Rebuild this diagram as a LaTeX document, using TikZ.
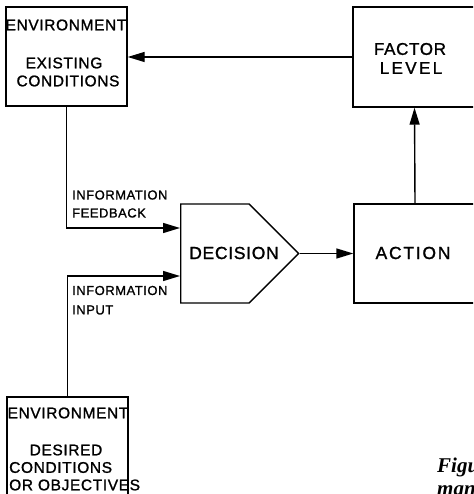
\documentclass[tikz,border=0pt]{standalone}
\usepackage{fontspec}
\usetikzlibrary{arrows.meta,shapes.symbols}
\newfontfamily\hand[LetterSpace=4,FakeBold=1.2]{Liberation Sans}
\newfontfamily\capfont{Liberation Serif}
\begin{document}
\begin{tikzpicture}[x=1pt,y=-1pt,
  box/.style={draw,line width=1.4pt,rectangle,inner sep=0pt},
  lbl/.style={inner sep=0pt,font=\hand\fontsize{15.5}{17}\selectfont},
  big/.style={inner sep=0pt,font=\hand\fontsize{17}{19}\selectfont},
  small/.style={inner sep=0pt,anchor=west,font=\hand\fontsize{13}{15}\selectfont},
  capt/.style={inner sep=0pt,anchor=base west,font=\capfont\itshape\bfseries\fontsize{21}{24}\selectfont},
  conn/.style={line width=1.4pt},
  arr/.style={conn,-{Triangle[length=17pt,width=10pt]}}]
\useasboundingbox (0,0) rectangle (473,494);
\clip (0,0) rectangle (473,494);
% boxes
\node[box,minimum width=121pt,minimum height=99pt] (env1) at (66.5,56.5) {};
\node[box,minimum width=123pt,minimum height=100pt] (factor) at (414.5,57) {};
\node[box,minimum width=122pt,minimum height=99pt] (action) at (415,253.5) {};
\node[box,minimum width=121pt,minimum height=110pt] (env2) at (67.5,452) {};
\node[draw,line width=1.4pt,signal,signal to=east,signal pointer angle=90,
      minimum width=118pt,minimum height=99pt,inner sep=0pt,anchor=west] (dec) at (180,253.5) {};
% texts
\node[lbl] (t1) at (66,25) {ENVIRONMENT};
\node[lbl] (t2) at (64,63) {EXISTING};
\node[lbl] (t3) at (68,81) {CONDITIONS};
\node[big] (t4) at (410,49) {FACTOR};
\node[big,font=\hand\fontsize{17}{19}\selectfont\addfontfeatures{LetterSpace=14}] (t5) at (411,68) {LEVEL};
\node[big,font=\hand\fontsize{17.5}{19}\selectfont] (t6) at (234,253) {DECISION};
\node[big,font=\hand\fontsize{17.5}{19}\selectfont\addfontfeatures{LetterSpace=10}] (t7) at (413,253) {ACTION};
\node[small] (t8) at (72,195) {INFORMATION};
\node[small] (t9) at (72,213) {FEEDBACK};
\node[small] (t10) at (72,290.5) {INFORMATION};
\node[small] (t11) at (72,310) {INPUT};
\node[lbl] (t12) at (68,413) {ENVIRONMENT};
\node[lbl] (t13) at (66,450) {DESIRED};
\node[lbl,anchor=west] (t14) at (9,467.5) {CONDITIONS};
\node[lbl,anchor=west] (t15) at (9,485) {OR OBJECTIVES};
\node[capt] (cap1) at (437,472) {Figure};
\node[capt] (cap2) at (437,495) {man};
% connectors
\draw[arr] (factor.west) -- (factor.west -| env1.east);
\draw[arr] (action.north) -- (factor.south);
\draw[arr] (env1.south) |- ([yshift=25.5pt]dec.west);
\draw[arr] (env2.north) |- ([yshift=-22.5pt]dec.west);
\draw[arr] (dec.east) -- (action.west);
\end{tikzpicture}
\end{document}
